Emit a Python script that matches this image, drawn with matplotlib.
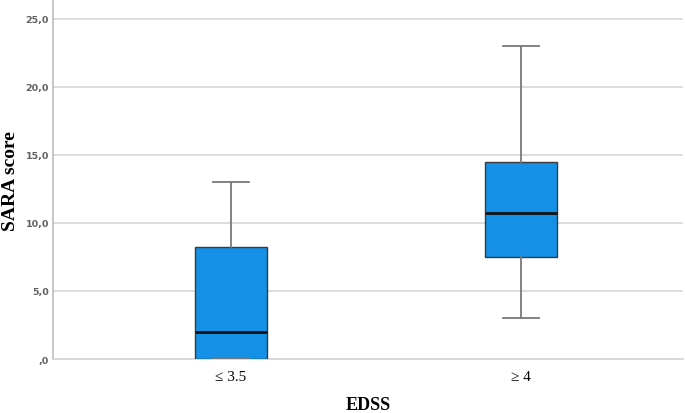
import matplotlib
matplotlib.use("Agg")
import matplotlib.pyplot as plt

categories = ["\u2264 3.5", "\u2265 4"]
whisker_low = [0.0, 3.0]
q1 = [0.0, 7.5]
median = [2.0, 10.75]
q3 = [8.25, 14.5]
whisker_high = [13.0, 23.0]
yticks = [0, 5, 10, 15, 20, 25]
ytick_labels = [",0", "5,0", "10,0", "15,0", "20,0", "25,0"]

fig = plt.figure(figsize=(6.85, 4.14), dpi=100)
ax = fig.add_axes([0.0774, 0.1304, 0.9196, 0.8647])

stats = []
for i, c in enumerate(categories):
    stats.append(dict(label=c, whislo=whisker_low[i], q1=q1[i], med=median[i],
                      q3=q3[i], whishi=whisker_high[i], fliers=[]))

ax.bxp(stats, positions=range(len(categories)), widths=0.25, patch_artist=True,
       boxprops=dict(facecolor="#1490e6", edgecolor="#3a3a3a", linewidth=1.0),
       medianprops=dict(color="#111111", linewidth=2.0),
       whiskerprops=dict(color="#7a7a7a", linewidth=1.3),
       capprops=dict(color="#7a7a7a", linewidth=1.3),
       capwidths=0.125, showfliers=False, zorder=3)

ax.set_xlim(-0.614, 1.559)
ax.set_ylim(0, 26.3)
ax.set_yticks(yticks)
ax.set_yticklabels(ytick_labels, fontsize=6.8, color="#606060", fontweight="bold",
                   family="DejaVu Sans")
ax.set_xticks(range(len(categories)))
ax.set_xticklabels(categories, fontsize=11, family="Liberation Serif")
ax.tick_params(axis="y", length=0, pad=3)
ax.tick_params(axis="x", length=0, pad=8)

ax.yaxis.grid(True, color="#d6d6d6", linewidth=1.2, zorder=0)
ax.set_axisbelow(True)
for s in ["top", "right"]:
    ax.spines[s].set_visible(False)
ax.spines["left"].set_color("#bdbdbd")
ax.spines["left"].set_linewidth(1.2)
ax.spines["bottom"].set_color("#d6d6d6")
ax.spines["bottom"].set_linewidth(1.2)

ax.set_xlabel("EDSS", fontsize=13, fontweight="bold", family="Liberation Serif", labelpad=9)
ax.set_ylabel("SARA score", fontsize=14, fontweight="bold", family="Liberation Serif", labelpad=5)

fig.savefig("out.png", dpi=100)
